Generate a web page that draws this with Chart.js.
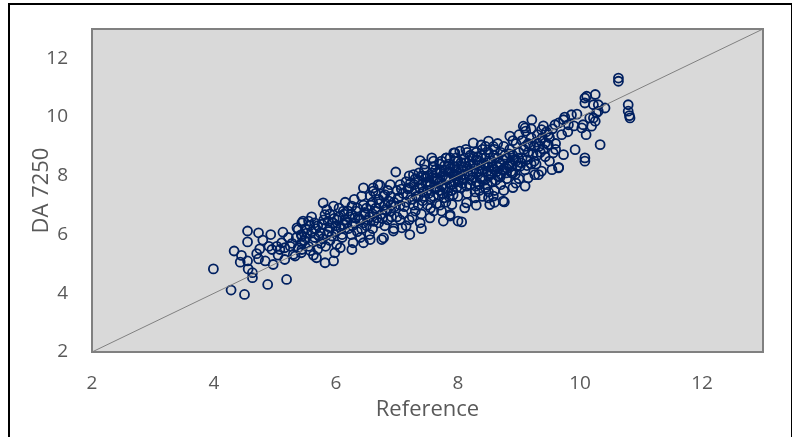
<!DOCTYPE html>
<html>
<head>
<meta charset="utf-8">
<script src="https://cdn.jsdelivr.net/npm/chart.js@4.4.0/dist/chart.umd.min.js"></script>
<style>
  body { margin: 0; background: #fff; }
  #wrap { position: relative; width: 792px; height: 437px; overflow: hidden; }
  #frame { position: absolute; left: 8px; top: 3px; width: 781px; height: 460px; border: 2px solid #000; pointer-events: none; }
</style>
</head>
<body>
<div id="wrap">
  <canvas id="myChart" width="792" height="437"></canvas>
  <div id="frame"></div>
</div>
<script>
// tick labels
const tickValues = [2, 4, 6, 8, 10, 12];
const identityLine = [2, 13];

// low end (x < 5.5)
const refLow = [3.99,4.28,4.50,4.88,5.19,4.63,4.63,4.56,4.33,4.55,4.55,4.73,4.93,5.13,4.80,4.45,4.43,4.55,4.73,4.75,4.84,4.95,5.03,5.11,5.08,5.16,4.97,5.16,5.33,5.38,5.44,5.44,5.44,5.44];
const daLow  = [4.83,4.11,3.96,4.30,4.47,4.53,4.70,4.83,5.44,6.12,5.75,6.06,6.00,6.08,5.81,5.29,5.06,5.10,5.17,5.51,5.10,5.49,5.60,5.72,5.49,5.55,4.98,5.15,5.27,6.17,6.40,5.94,5.72,5.49];

// 5.3 - 7
const refMid1 = [5.79,5.96,5.85,5.82,5.36,5.46,5.55,5.43,5.51,5.38,5.30,5.43,5.68,5.82,5.96,5.98,6.07,6.01,6.26,6.28,6.45,6.56,6.75,6.45,6.61,6.72,6.80,6.56,6.42,6.26,6.12,6.31,6.48,6.67,6.83,6.12,5.90,5.74,
  5.6,5.65,5.7,5.75,5.8,5.85,5.9,5.95,6.0,6.05,
  6.1,6.15,6.2,6.2,6.25,6.3,6.35,6.35,6.4,6.45,
  6.5,6.5,6.55,6.6,6.6,6.65,6.7,6.7,6.75,6.8,
  6.85,6.9,6.9,6.95,7.0,7.0,5.55,5.6,5.7,5.9,
  6.05,6.15,6.3,6.4,6.55,6.65,6.85,6.95,5.5,5.65,
  6.0,6.1,6.25,6.45,6.6,6.8,6.9,5.35,5.28,5.22,
  5.25,5.05,4.9,4.7];
const daMid1 = [7.08,6.97,6.85,6.68,6.23,6.46,6.46,6.00,5.89,5.55,5.32,5.38,5.21,5.04,5.10,5.38,5.55,5.66,5.49,5.72,5.72,5.83,5.83,7.59,7.59,7.68,7.36,7.31,7.31,6.97,6.80,6.57,6.68,6.57,6.80,6.34,6.23,6.06,
  6.1,5.9,6.3,5.7,6.5,6.0,5.8,6.4,6.1,6.6,
  6.0,6.5,6.2,6.8,6.0,6.4,6.9,6.1,6.5,7.0,
  6.3,6.9,6.6,7.1,6.2,6.9,6.4,7.2,6.7,7.0,
  6.5,7.3,6.8,7.1,6.6,7.5,5.6,6.6,5.5,6.7,
  6.9,7.1,7.2,5.9,6.0,7.4,7.5,6.2,6.2,6.4,
  6.3,5.9,6.7,6.4,6.7,6.3,7.0,5.9,5.7,5.9,
  5.6,5.3,5.6,5.35];

// 6.6 - 8
const refMid2 = [6.98,7.38,7.57,7.73,7.87,7.95,7.97,7.27,7.43,7.65,6.89,6.69,6.61,6.78,7.76,7.87,8.00,7.90,7.73,7.21,7.08,6.94,6.78,7.38,7.54,
  7.05,7.1,7.1,7.15,7.15,7.2,7.2,7.25,7.3,7.3,
  7.3,7.35,7.4,7.4,7.45,7.45,7.5,7.5,7.5,7.55,
  7.55,7.6,7.6,7.65,7.65,7.7,7.7,7.7,7.75,7.75,
  7.8,7.8,7.8,7.85,7.85,7.9,7.9,7.95,7.95,8.0,
  8.0,8.0,7.05,7.2,7.35,7.45,7.6,7.8,7.25,7.4,
  7.6,7.15,7.05,7.35,7.55,7.65,7.75,7.85,7.9,7.95,
  7.6,7.7,7.5,7.4,7.85,7.95,7.8,7.7];
const daMid2 = [8.13,8.52,8.61,8.50,8.61,8.78,8.61,8.04,7.99,7.93,7.70,7.70,7.48,7.31,6.46,6.63,6.46,7.02,6.80,6.00,6.23,6.12,5.89,6.40,6.57,
  7.0,7.4,6.7,7.8,7.1,6.5,7.6,7.2,6.8,7.9,
  7.5,7.0,7.7,6.7,7.3,8.2,7.5,7.0,8.0,7.7,
  6.9,8.3,7.3,7.6,8.1,7.0,7.8,8.4,7.4,8.0,
  7.6,8.2,7.1,7.9,8.4,7.5,8.1,7.8,8.3,7.3,
  8.0,8.5,7.7,8.0,7.85,8.4,8.5,8.6,6.6,6.2,
  6.8,6.3,6.5,7.3,7.2,7.05,7.7,7.3,7.7,8.05,
  7.9,8.2,7.8,8.0,8.15,8.5,7.85,7.5];

// 7.8 - 9.2
const refMid3 = [8.25,8.50,8.85,9.07,9.11,8.03,7.93,7.81,8.74,8.50,8.52,8.28,8.14,8.11,7.87,9.10,8.88,9.02,9.13,8.76,8.06,8.58,
  8.05,8.05,8.1,8.1,8.15,8.15,8.2,8.2,8.2,8.25,
  8.3,8.3,8.3,8.35,8.35,8.4,8.4,8.4,8.45,8.45,
  8.5,8.5,8.5,8.55,8.55,8.6,8.6,8.6,8.65,8.65,
  8.7,8.7,8.7,8.75,8.75,8.8,8.8,8.85,8.85,8.9,
  8.9,8.95,8.95,9.0,9.0,9.05,9.05,9.1,9.15,9.2,
  9.2,8.1,8.25,8.35,8.45,8.55,8.65,8.3,8.2,8.4,
  8.6,8.3,8.0,8.15,8.45,8.65,8.9,9.0,8.35,8.7,
  8.8,8.25,8.05,8.5,8.75,8.9,9.1,8.95];
const daMid3 = [9.12,9.18,9.35,9.69,9.52,8.84,8.78,8.61,7.14,7.25,7.02,7.25,7.08,6.91,6.68,7.65,8.10,8.33,8.55,7.11,6.43,7.31,
  7.6,8.2,7.9,8.6,7.4,8.3,8.0,8.7,7.7,8.4,
  7.8,8.1,8.8,7.5,8.5,8.2,7.9,8.9,8.6,7.6,
  8.3,8.0,8.8,7.8,8.5,8.2,8.9,7.5,8.6,8.0,
  8.4,8.8,7.7,8.2,9.0,8.6,7.9,8.4,8.9,8.1,
  8.7,9.1,8.5,8.8,7.9,9.2,8.6,9.0,8.8,9.3,
  8.4,8.05,7.95,8.15,8.35,8.15,8.3,8.55,8.35,7.3,
  7.1,7.0,7.8,8.8,9.0,9.1,9.2,9.4,7.7,8.05,
  8.25,8.65,8.45,7.45,7.5,7.6,8.2,7.75];

// dense core of the band
const refCore = [6.02,6.08,6.13,6.18,6.22,6.27,6.33,6.38,6.42,6.47,
  6.52,6.57,6.62,6.66,6.71,6.76,6.81,6.86,6.91,6.96,
  7.02,7.07,7.12,7.17,7.22,7.27,7.32,7.37,7.42,7.47,
  7.52,7.57,7.62,7.67,7.72,7.77,7.82,7.87,7.92,7.97,
  7.53,7.58,7.63,7.68,7.73,7.78,7.83,7.88,7.93,7.98,
  7.42,7.47,7.36,7.28,7.18,
  8.02,8.07,8.12,8.17,8.22,8.27,8.32,8.37,8.42,8.47,
  8.52,8.57,8.62,8.67,8.72,8.77,8.82,8.87,8.92,8.97,
  8.04,8.09,8.14,8.19,8.24,8.29,8.34,8.39,8.44,8.49,
  8.54,8.59,8.64,8.69,8.74,8.79,8.84,8.89,8.94,8.99,
  8.13,8.38,8.58,8.28,8.48,
  9.03,9.08,9.13,9.18,9.23,9.28,9.33,9.38,9.43,9.48,
  5.48,5.52,5.58,5.62,5.67,5.72,5.77,5.83,5.88,5.93,5.97,5.57,5.63,5.78,5.87];
const daCore = [6.5,6.2,6.7,6.4,6.6,6.3,6.8,6.55,6.2,6.75,
  6.5,7.0,6.45,6.8,7.05,6.55,6.85,7.15,6.6,6.95,
  7.25,7.55,6.95,7.35,7.75,7.0,7.3,7.6,7.15,7.95,
  7.4,8.1,7.55,7.85,8.15,7.25,7.95,8.25,7.35,8.15,
  7.65,7.95,8.2,7.35,7.65,8.35,7.45,7.7,8.0,7.6,
  7.45,7.75,8.1,7.7,7.55,
  8.1,7.75,8.45,8.05,7.85,8.25,8.65,7.95,8.4,8.15,
  8.6,8.3,7.85,8.45,8.2,8.7,8.35,8.15,8.55,8.35,
  7.95,8.3,7.65,8.5,8.15,7.65,8.35,8.7,7.85,8.45,
  8.05,8.7,8.15,7.95,8.55,8.1,8.75,8.35,8.05,8.6,
  8.9,9.05,9.0,7.45,7.7,
  8.45,8.9,8.35,9.05,8.75,8.4,9.0,9.3,8.65,9.4,
  5.8,6.05,5.45,5.75,6.2,5.95,6.35,5.6,6.1,5.95,6.55,6.3,5.3,5.85,6.45];

// high end (x > 9.1)
const refHigh = [10.11,10.08,10.22,10.30,10.16,10.25,10.05,9.86,9.73,9.81,9.59,10.03,9.21,9.37,9.10,9.92,10.08,9.73,9.65,9.54,9.37,9.32,9.15,9.56,9.48,9.43,10.33,10.63,10.63,10.79,10.79,10.81,10.82,10.10,10.25,10.08,10.30,10.41,10.22,10.27,10.19,9.26,9.65,10.08,
  9.25,9.3,9.3,9.35,9.4,9.45,9.5,9.5,9.55,9.6,9.65,9.7,9.75,9.8,9.9,9.95,9.25,9.35,9.4,9.6,9.2,9.28,9.15];
const daHigh  = [10.71,10.48,10.42,10.20,9.97,9.86,9.74,10.08,9.91,9.74,9.74,9.63,9.91,9.57,9.63,8.89,8.61,8.72,8.27,8.21,8.16,8.04,7.93,8.78,9.06,9.12,9.06,11.33,11.22,10.42,10.20,10.05,9.97,9.40,10.77,10.65,10.42,10.31,9.97,10.14,9.69,8.04,8.29,8.50,
  9.0,9.4,8.7,9.2,8.9,9.5,9.3,8.5,9.6,9.1,9.8,9.4,10.0,9.5,9.7,10.1,8.5,8.8,9.7,8.9,9.6,9.15,9.1];

const refAll = refLow.concat(refMid1, refMid2, refMid3, refCore, refHigh);
const daAll = daLow.concat(daMid1, daMid2, daMid3, daCore, daHigh);
const points = refAll.map((x, i) => ({ x: x, y: daAll[i] }));

const textColor = '#595959';
const fontFamily = '"Open Sans", "Noto Sans", sans-serif';

// grey plot area with a border
const plotBox = {
  id: 'plotBox',
  beforeDatasetsDraw(chart) {
    const a = chart.chartArea;
    const ctx = chart.ctx;
    ctx.save();
    ctx.fillStyle = '#d9d9d9';
    ctx.fillRect(a.left, a.top, a.right - a.left, a.bottom - a.top);
    ctx.strokeStyle = '#808080';
    ctx.lineWidth = 2;
    ctx.strokeRect(a.left, a.top, a.right - a.left, a.bottom - a.top);
    ctx.restore();
  }
};

// fixed axis sizes, no extra label padding
function fixX(s) {
  s.height = 85;
  s.paddingLeft = 0; s.paddingRight = 0; s.paddingTop = 0; s.paddingBottom = 0;
}
function fixY(s) {
  s.width = 82;
  s.paddingLeft = 0; s.paddingRight = 0; s.paddingTop = 0; s.paddingBottom = 0;
}

function makeChart() {
  const ctx = document.getElementById('myChart');
  const configuration = {
    type: 'scatter',
    data: {
      datasets: [{
        label: 'line',
        type: 'line',
        data: identityLine.map(v => ({ x: v, y: v })),
        borderColor: '#808080',
        borderWidth: 1,
        pointRadius: 0,
        order: 0
      }, {
        label: 'DA 7250',
        data: points,
        pointStyle: 'circle',
        pointRadius: 4.5,
        borderColor: '#002060',
        backgroundColor: 'rgba(0,0,0,0)',
        borderWidth: 1.8,
        order: 1
      }]
    },
    options: {
      responsive: false,
      animation: false,
      layout: { padding: { left: 10, top: 29, right: 29, bottom: 0 } },
      plugins: { legend: { display: false }, tooltip: { enabled: false } },
      scales: {
        x: {
          type: 'linear',
          min: 2,
          max: 13,
          afterBuildTicks: (s) => { s.ticks = tickValues.map(v => ({ value: v })); },
          afterFit: fixX,
          grid: { display: false, drawTicks: false },
          border: { display: false },
          ticks: { color: textColor, padding: 20, font: { family: fontFamily, size: 19 } },
          title: { display: true, text: 'Reference', color: textColor, padding: { top: 0, bottom: 14 }, font: { family: fontFamily, size: 22 } }
        },
        y: {
          type: 'linear',
          min: 2,
          max: 13,
          afterBuildTicks: (s) => { s.ticks = tickValues.map(v => ({ value: v })); },
          afterFit: fixY,
          grid: { display: false, drawTicks: false },
          border: { display: false },
          ticks: { color: textColor, padding: 24, font: { family: fontFamily, size: 19 } },
          title: { display: true, text: 'DA 7250', color: textColor, padding: { top: 19, bottom: 0 }, font: { family: fontFamily, size: 22 } }
        }
      }
    },
    plugins: [plotBox]
  };
  new Chart(ctx, configuration);
}

window.onload = function () {
  makeChart();
};
</script>
</body>
</html>
